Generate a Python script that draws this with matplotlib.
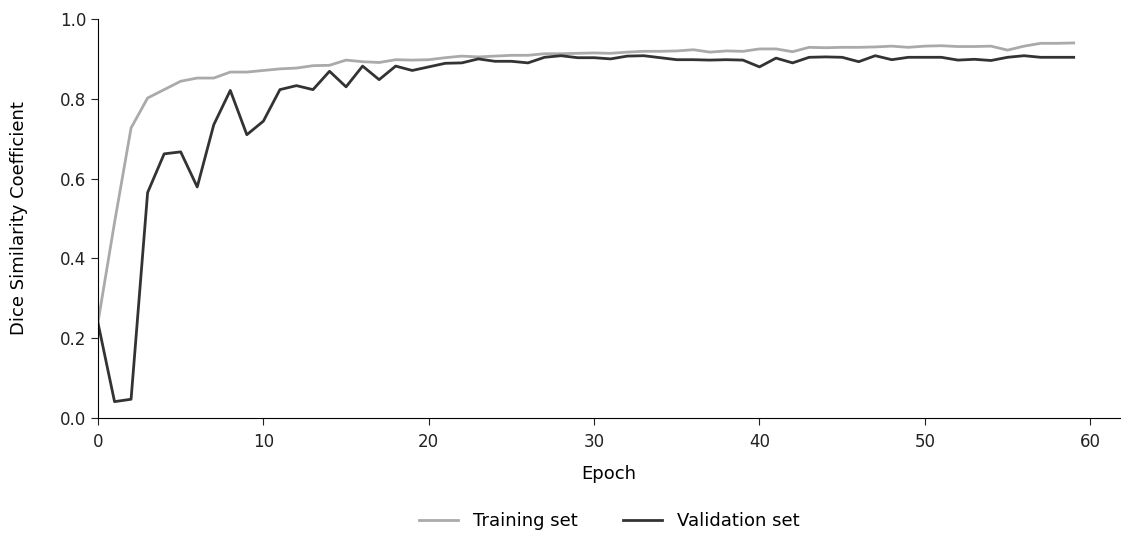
import matplotlib
matplotlib.use("Agg")
import matplotlib.pyplot as plt

epochs = list(range(60))

train_dsc = [0.24, 0.49, 0.727, 0.802, 0.823, 0.844, 0.852, 0.852, 0.867, 0.867,
             0.871, 0.875, 0.877, 0.883, 0.884, 0.897, 0.893, 0.891, 0.898, 0.897,
             0.898, 0.903, 0.907, 0.905, 0.907, 0.909, 0.909, 0.913, 0.913, 0.914,
             0.915, 0.914, 0.917, 0.919, 0.919, 0.920, 0.923, 0.917, 0.920, 0.919,
             0.925, 0.925, 0.918, 0.929, 0.928, 0.929, 0.929, 0.930, 0.932, 0.929,
             0.932, 0.933, 0.931, 0.931, 0.932, 0.922, 0.932, 0.939, 0.939, 0.940]

val_dsc = [0.238, 0.041, 0.047, 0.565, 0.662, 0.667, 0.579, 0.735, 0.821, 0.710,
           0.744, 0.823, 0.833, 0.823, 0.869, 0.830, 0.882, 0.848, 0.882, 0.871,
           0.880, 0.889, 0.890, 0.900, 0.894, 0.894, 0.890, 0.904, 0.908, 0.903,
           0.903, 0.900, 0.907, 0.908, 0.903, 0.898, 0.898, 0.897, 0.898, 0.897,
           0.880, 0.902, 0.890, 0.904, 0.905, 0.904, 0.893, 0.908, 0.898, 0.904,
           0.904, 0.904, 0.897, 0.899, 0.896, 0.904, 0.908, 0.904, 0.904, 0.904]

fig = plt.figure(figsize=(11.23, 5.33), dpi=100)
ax = fig.add_axes([98 / 1123, 1 - 418 / 533, (1120 - 98) / 1123, (418 - 19) / 533])

ax.plot(epochs, train_dsc, color="#aaaaaa", linewidth=2, label="Training set")
ax.plot(epochs, val_dsc, color="#333333", linewidth=2, label="Validation set")

ax.set_xlim(0, 61.8)
ax.set_ylim(0, 1.0)
ax.set_xticks([0, 10, 20, 30, 40, 50, 60])
ax.set_yticks([0.0, 0.2, 0.4, 0.6, 0.8, 1.0])
ax.yaxis.set_major_formatter(matplotlib.ticker.FormatStrFormatter("%.1f"))
ax.tick_params(labelsize=12, colors="#222222", length=5)
ax.tick_params(axis="x", pad=6)
ax.spines["top"].set_visible(False)
ax.spines["right"].set_visible(False)
ax.set_xlabel("Epoch", fontsize=13, labelpad=10)
ax.set_ylabel("Dice Similarity Coefficient", fontsize=13, labelpad=23)

fig.legend(loc="center", bbox_to_anchor=(609 / 1123, 1 - 521 / 533), ncol=2,
           frameon=False, fontsize=13, columnspacing=2.5, handlelength=2.2)

fig.savefig("out.png", dpi=100)
